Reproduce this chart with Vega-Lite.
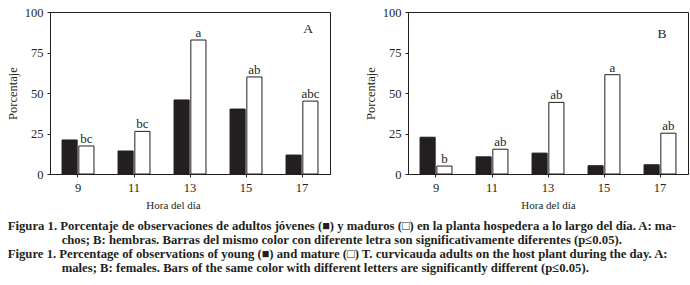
{
  "$schema": "https://vega.github.io/schema/vega-lite/v6.json",
  "padding": {"left": 5, "top": 5, "right": 0, "bottom": 0},
  "background": "white",
  "config": {
    "font": "Liberation Serif",
    "view": {"stroke": "#231f20", "strokeWidth": 1},
    "axis": {
      "grid": false,
      "domainColor": "#231f20",
      "tickColor": "#231f20",
      "labelColor": "#231f20",
      "titleColor": "#231f20",
      "labelFont": "Liberation Serif",
      "titleFont": "Liberation Serif",
      "labelFontSize": 12.5,
      "titleFontSize": 12.5,
      "titleFontWeight": "normal",
      "tickSize": 3
    },
    "title": {"font": "Liberation Serif", "color": "#231f20"}
  },
  "data": {
    "values": [
      {"panel": "A", "hour": "9", "age": "young", "value": 21.0, "letter": ""},
      {"panel": "A", "hour": "9", "age": "mature", "value": 17.3, "letter": "bc"},
      {"panel": "A", "hour": "11", "age": "young", "value": 14.2, "letter": ""},
      {"panel": "A", "hour": "11", "age": "mature", "value": 26.3, "letter": "bc"},
      {"panel": "A", "hour": "13", "age": "young", "value": 45.7, "letter": ""},
      {"panel": "A", "hour": "13", "age": "mature", "value": 82.7, "letter": "a"},
      {"panel": "A", "hour": "15", "age": "young", "value": 40.1, "letter": ""},
      {"panel": "A", "hour": "15", "age": "mature", "value": 59.9, "letter": "ab"},
      {"panel": "A", "hour": "17", "age": "young", "value": 11.7, "letter": ""},
      {"panel": "A", "hour": "17", "age": "mature", "value": 45.0, "letter": "abc"},
      {"panel": "B", "hour": "9", "age": "young", "value": 22.7, "letter": ""},
      {"panel": "B", "hour": "9", "age": "mature", "value": 4.9, "letter": "b"},
      {"panel": "B", "hour": "11", "age": "young", "value": 10.6, "letter": ""},
      {"panel": "B", "hour": "11", "age": "mature", "value": 15.3, "letter": "ab"},
      {"panel": "B", "hour": "13", "age": "young", "value": 12.9, "letter": ""},
      {"panel": "B", "hour": "13", "age": "mature", "value": 44.2, "letter": "ab"},
      {"panel": "B", "hour": "15", "age": "young", "value": 5.1, "letter": ""},
      {"panel": "B", "hour": "15", "age": "mature", "value": 61.3, "letter": "a"},
      {"panel": "B", "hour": "17", "age": "young", "value": 5.7, "letter": ""},
      {"panel": "B", "hour": "17", "age": "mature", "value": 25.2, "letter": "ab"}
    ]
  },
  "spacing": 32,
  "title": {
    "text": [
      "Figura 1. Porcentaje de observaciones de adultos jóvenes (■) y maduros (□) en la planta hospedera a lo largo del día. A: ma-",
      "\u200b\u00a0\u00a0\u00a0\u00a0\u00a0\u00a0\u00a0\u00a0\u00a0\u00a0\u00a0\u00a0\u00a0\u00a0\u00a0\u00a0\u00a0chos; B: hembras. Barras del mismo color con diferente letra son significativamente diferentes (p≤0.05).",
      "Figure 1. Percentage of observations of young (■) and mature (□) T. curvicauda adults on the host plant during the day. A:",
      "\u200b\u00a0\u00a0\u00a0\u00a0\u00a0\u00a0\u00a0\u00a0\u00a0\u00a0\u00a0\u00a0\u00a0\u00a0\u00a0\u00a0\u00a0males; B: females. Bars of the same color with different letters are significantly different (p≤0.05)."
    ],
    "orient": "bottom",
    "anchor": "start",
    "frame": "bounds",
    "fontSize": 12.7,
    "fontWeight": "bold",
    "lineHeight": 14,
    "offset": 9,
    "dx": 2
  },
  "hconcat": [
    {
      "width": 280,
      "height": 162,
      "layer": [
        {
          "transform": [{"filter": "datum.panel === 'A'"}],
          "mark": {"type": "bar", "stroke": "#231f20", "strokeWidth": 1},
          "encoding": {
            "x": {"field": "hour", "type": "ordinal", "sort": ["9", "11", "13", "15", "17"],
                  "scale": {"domain": ["9", "11", "13", "15", "17"], "paddingInner": 0.43, "paddingOuter": 0.215},
                  "axis": {"labelAngle": 0, "title": "Hora del día", "titleFontSize": 11, "labelPadding": 4, "titlePadding": 6, "titleX": 123}},
            "xOffset": {"field": "age", "type": "nominal", "sort": ["young", "mature"],
                        "scale": {"domain": ["young", "mature"], "paddingInner": 0.1, "paddingOuter": 0}},
            "y": {"field": "value", "type": "quantitative",
                  "scale": {"domain": [0, 100], "nice": false},
                  "axis": {"values": [0, 25, 50, 75, 100], "title": "Porcentaje", "labelPadding": 4, "titlePadding": 5}},
            "fill": {"field": "age", "type": "nominal",
                     "scale": {"domain": ["young", "mature"], "range": ["#231f20", "#ffffff"]}, "legend": null}
          }
        },
        {
          "transform": [{"filter": "datum.panel === 'A' && datum.letter !== ''"}],
          "mark": {"type": "text", "baseline": "alphabetic", "dy": -3, "fontSize": 13, "color": "#231f20"},
          "encoding": {
            "x": {"field": "hour", "type": "ordinal", "sort": ["9", "11", "13", "15", "17"]},
            "xOffset": {"field": "age", "type": "nominal", "sort": ["young", "mature"]},
            "y": {"field": "value", "type": "quantitative"},
            "text": {"field": "letter"}
          }
        },
        {
          "data": {"values": [{"label": "A"}]},
          "mark": {"type": "text", "fontSize": 13.5, "color": "#231f20", "dx": 6},
          "encoding": {
            "x": {"datum": "17", "type": "ordinal"},
            "y": {"datum": 89.5, "type": "quantitative"},
            "text": {"field": "label"}
          }
        }
      ]
    },
    {
      "width": 280,
      "height": 162,
      "layer": [
        {
          "transform": [{"filter": "datum.panel === 'B'"}],
          "mark": {"type": "bar", "stroke": "#231f20", "strokeWidth": 1},
          "encoding": {
            "x": {"field": "hour", "type": "ordinal", "sort": ["9", "11", "13", "15", "17"],
                  "scale": {"domain": ["9", "11", "13", "15", "17"], "paddingInner": 0.43, "paddingOuter": 0.215},
                  "axis": {"labelAngle": 0, "title": "Hora del día", "titleFontSize": 11, "labelPadding": 4, "titlePadding": 6}},
            "xOffset": {"field": "age", "type": "nominal", "sort": ["young", "mature"],
                        "scale": {"domain": ["young", "mature"], "paddingInner": 0.1, "paddingOuter": 0}},
            "y": {"field": "value", "type": "quantitative",
                  "scale": {"domain": [0, 100], "nice": false},
                  "axis": {"values": [0, 25, 50, 75, 100], "title": "Porcentaje", "labelPadding": 4, "titlePadding": 5}},
            "fill": {"field": "age", "type": "nominal",
                     "scale": {"domain": ["young", "mature"], "range": ["#231f20", "#ffffff"]}, "legend": null}
          }
        },
        {
          "transform": [{"filter": "datum.panel === 'B' && datum.letter !== ''"}],
          "mark": {"type": "text", "baseline": "alphabetic", "dy": -3, "fontSize": 13, "color": "#231f20"},
          "encoding": {
            "x": {"field": "hour", "type": "ordinal", "sort": ["9", "11", "13", "15", "17"]},
            "xOffset": {"field": "age", "type": "nominal", "sort": ["young", "mature"]},
            "y": {"field": "value", "type": "quantitative"},
            "text": {"field": "letter"}
          }
        },
        {
          "data": {"values": [{"label": "B"}]},
          "mark": {"type": "text", "fontSize": 13.5, "color": "#231f20", "dx": 2},
          "encoding": {
            "x": {"datum": "17", "type": "ordinal"},
            "y": {"datum": 86.5, "type": "quantitative"},
            "text": {"field": "label"}
          }
        }
      ]
    }
  ]
}
